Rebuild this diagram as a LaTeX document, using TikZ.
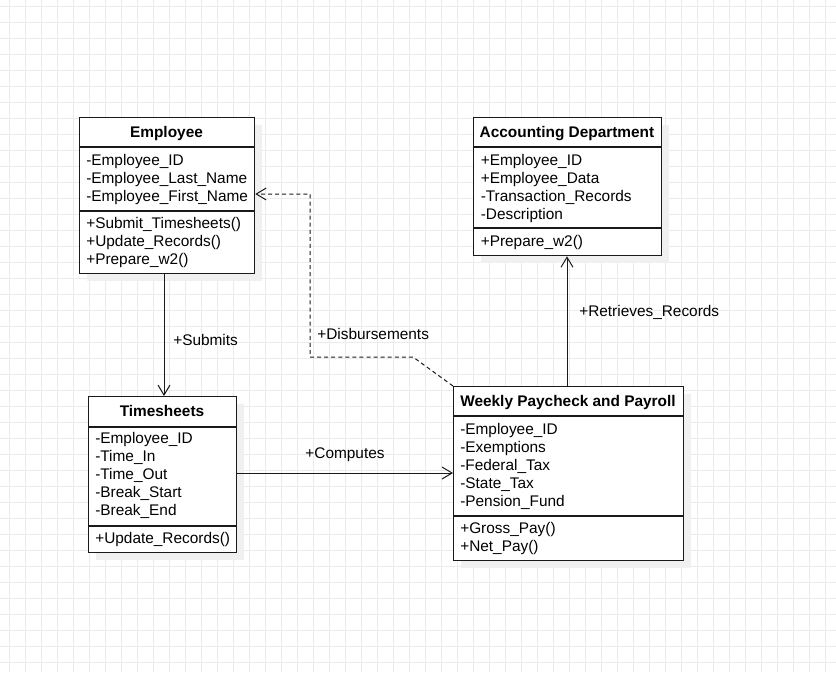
\documentclass[tikz,border=0pt]{standalone}
\usepackage{fontspec}
\setmainfont{Liberation Sans}
\usetikzlibrary{arrows.meta}
\definecolor{gridc}{HTML}{EBEBEB}
\definecolor{shadowc}{HTML}{F0F0F0}
\definecolor{linec}{HTML}{1A1A1A}
\newcommand{\fs}{\fontsize{11.55}{13.5}\selectfont}
\tikzset{
  umlbox/.style={draw=linec, line width=0.95pt, fill=white, inner sep=0pt, anchor=north west},
  shadowbox/.style={fill=shadowc, draw=none},
  sepline/.style={draw=linec, line width=0.95pt},
  gridline/.style={draw=gridc, line width=0.7pt},
  txt/.style={inner sep=0pt, anchor=base west, font=\fs},
  ttl/.style={inner sep=0pt, anchor=base, font=\fs\bfseries},
  conn/.style={draw=linec, line width=0.75pt},
  openarrow/.style={-{Straight Barb[length=7.5pt,width=9pt,line width=0.75pt]}},
  dashconn/.style={conn, dash pattern=on 3pt off 2.3pt}
}
\begin{document}
\begin{tikzpicture}[x=0.75pt,y=-0.75pt]
\useasboundingbox (0,0) rectangle (836,672);
\fill[white] (0,0) rectangle (836,672);
% grid
\foreach \i in {0,...,51} \draw[gridline] (9.3+16*\i,0) -- (9.3+16*\i,672);
\foreach \j in {0,...,41} \draw[gridline] (0,6.7+16*\j) -- (836,6.7+16*\j);

% shadows
\fill[shadowbox] (87,125) rectangle (262,281);
\fill[shadowbox] (481,125) rectangle (669,263);
\fill[shadowbox] (96,404) rectangle (244,560);
\fill[shadowbox] (461,394) rectangle (691,568);

% Employee
\node[umlbox, minimum width=131.25pt, minimum height=117pt] (emp) at (79,117) {};
\draw[sepline] (emp.west |- 0,147) -- (emp.east |- 0,147);
\draw[sepline] (emp.west |- 0,211) -- (emp.east |- 0,211);
\node[ttl] (empT) at (166.5,137) {Employee};
\node[txt] (empA1) at (86,165) {-Employee\_ID};
\node[txt] (empA2) at (86,183) {-Employee\_Last\_Name};
\node[txt] (empA3) at (86,201) {-Employee\_First\_Name};
\node[txt] (empM1) at (86,228) {+Submit\_Timesheets()};
\node[txt] (empM2) at (86,246) {+Update\_Records()};
\node[txt] (empM3) at (86,264) {+Prepare\_w2()};

% Accounting Department
\node[umlbox, minimum width=141pt, minimum height=103.5pt] (acc) at (473,117) {};
\draw[sepline] (acc.west |- 0,147) -- (acc.east |- 0,147);
\draw[sepline] (acc.west |- 0,228) -- (acc.east |- 0,228);
\node[ttl] (accT) at (567,137) {Accounting Department};
\node[txt] (accA1) at (480.5,165) {+Employee\_ID};
\node[txt] (accA2) at (480.5,183) {+Employee\_Data};
\node[txt] (accA3) at (480.5,201) {-Transaction\_Records};
\node[txt] (accA4) at (480.5,219) {-Description};
\node[txt] (accM1) at (480.5,246) {+Prepare\_w2()};

% Timesheets
\node[umlbox, minimum width=111pt, minimum height=117pt] (ts) at (88,396) {};
\draw[sepline] (ts.west |- 0,427) -- (ts.east |- 0,427);
\draw[sepline] (ts.west |- 0,526) -- (ts.east |- 0,526);
\node[ttl] (tsT) at (162,416) {Timesheets};
\node[txt] (tsA1) at (95,443) {-Employee\_ID};
\node[txt] (tsA2) at (95,461) {-Time\_In};
\node[txt] (tsA3) at (95,479) {-Time\_Out};
\node[txt] (tsA4) at (95,497) {-Break\_Start};
\node[txt] (tsA5) at (95,515) {-Break\_End};
\node[txt] (tsM1) at (95,543) {+Update\_Records()};

% Weekly Paycheck and Payroll
\node[umlbox, minimum width=172.5pt, minimum height=130.5pt] (wk) at (453,386) {};
\draw[sepline] (wk.west |- 0,416) -- (wk.east |- 0,416);
\draw[sepline] (wk.west |- 0,516) -- (wk.east |- 0,516);
\node[ttl] (wkT) at (568,406) {Weekly Paycheck and Payroll};
\node[txt] (wkA1) at (460,434) {-Employee\_ID};
\node[txt] (wkA2) at (460,452) {-Exemptions};
\node[txt] (wkA3) at (460,470) {-Federal\_Tax};
\node[txt] (wkA4) at (460,488) {-State\_Tax};
\node[txt] (wkA5) at (460,506) {-Pension\_Fund};
\node[txt] (wkM1) at (460,533) {+Gross\_Pay()};
\node[txt] (wkM2) at (460,551) {+Net\_Pay()};

% connectors
\draw[conn, openarrow] (emp.south -| 164,0) -- (ts.north -| 164,0);
\node[txt] (lSub) at (173,345.5) {+Submits};

\draw[conn, openarrow] (ts.east |- 0,473) -- (wk.west |- 0,473);
\node[ttl, font=\fs] (lComp) at (345,458.5) {+Computes};

\draw[conn, openarrow] (wk.north -| 567,0) -- (acc.south -| 567,0);
\node[txt] (lRet) at (579,316) {+Retrieves\_Records};

\coordinate (d1) at (413,357);
\coordinate (d2) at (310,357);
\coordinate (d3) at (310,194);
\draw[dashconn, openarrow] (wk.north west) -- (d1) -- (d2) -- (d3) -- (emp.east |- d3);
\node[txt] (lDis) at (317,339) {+Disbursements};
\end{tikzpicture}
\end{document}
